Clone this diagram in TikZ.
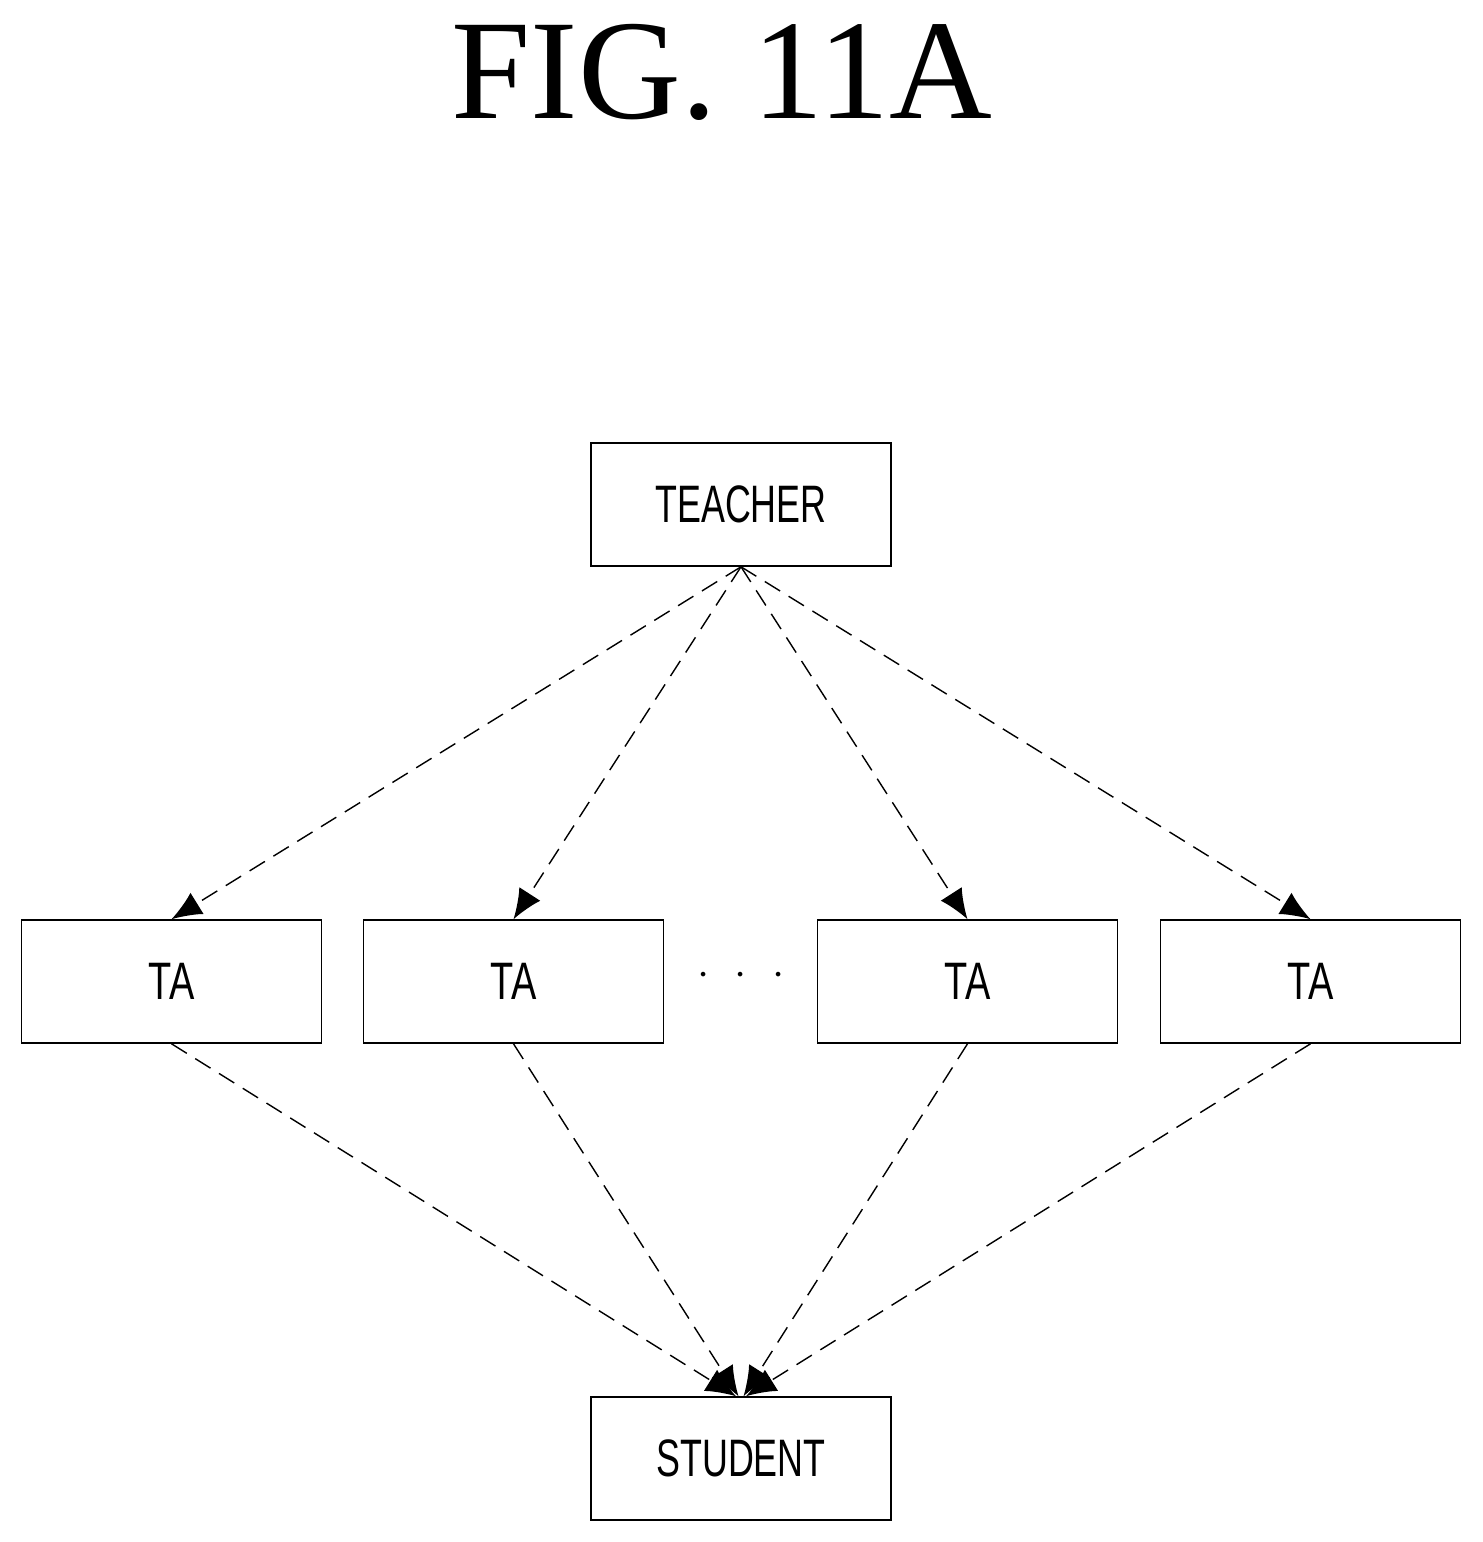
\documentclass[tikz,border=0pt]{standalone}
\usepackage{fontspec}
\setmainfont{Liberation Serif}
\setsansfont{Liberation Sans}
\usetikzlibrary{arrows.meta}
\begin{document}
\begin{tikzpicture}[
      x=0.02cm, y=-0.02cm,
      box/.style={draw, line width=0.9pt, minimum width=6cm, minimum height=2.46cm,
        font=\sffamily\fontsize{30}{30}\selectfont},
      flow/.style={-{Latex[length=0.6cm,width=0.5cm]}, line width=0.8pt,
        dash pattern=on 0.36cm off 0.2cm}]
    \useasboundingbox (0,0) rectangle (1483,1542);
    \node (title) at (722,72) {\fontsize{81}{81}\selectfont FIG. 11A};

    \node [box] (teacher) at (741,504.5) {\scalebox{0.68}[1]{TEACHER}};
    \node [box] (ta1)     at (171.5,981.5) {\scalebox{0.72}[1]{TA}};
    \node [box] (ta2)     at (513.5,981.5) {\scalebox{0.72}[1]{TA}};
    \node [box] (ta3)     at (967.5,981.5) {\scalebox{0.72}[1]{TA}};
    \node [box] (ta4)     at (1310.5,981.5) {\scalebox{0.72}[1]{TA}};
    \node [box] (student) at (741,1458.5) {\scalebox{0.68}[1]{STUDENT}};
    \node (dots) at (741,976) {\fontsize{36}{36}\selectfont$\cdot\ \cdot\ \cdot$};

    \draw [flow] (teacher.south) -- (ta1.north);
    \draw [flow] (teacher.south) -- (ta2.north);
    \draw [flow] (teacher.south) -- (ta3.north);
    \draw [flow] (teacher.south) -- (ta4.north);

    \draw [flow] (ta1.south) -- ([xshift=-0.1cm]student.north);
    \draw [flow] (ta2.south) -- ([xshift=-0.05cm]student.north);
    \draw [flow] (ta3.south) -- ([xshift=0.05cm]student.north);
    \draw [flow] (ta4.south) -- ([xshift=0.1cm]student.north);

  \end{tikzpicture}
\end{document}
